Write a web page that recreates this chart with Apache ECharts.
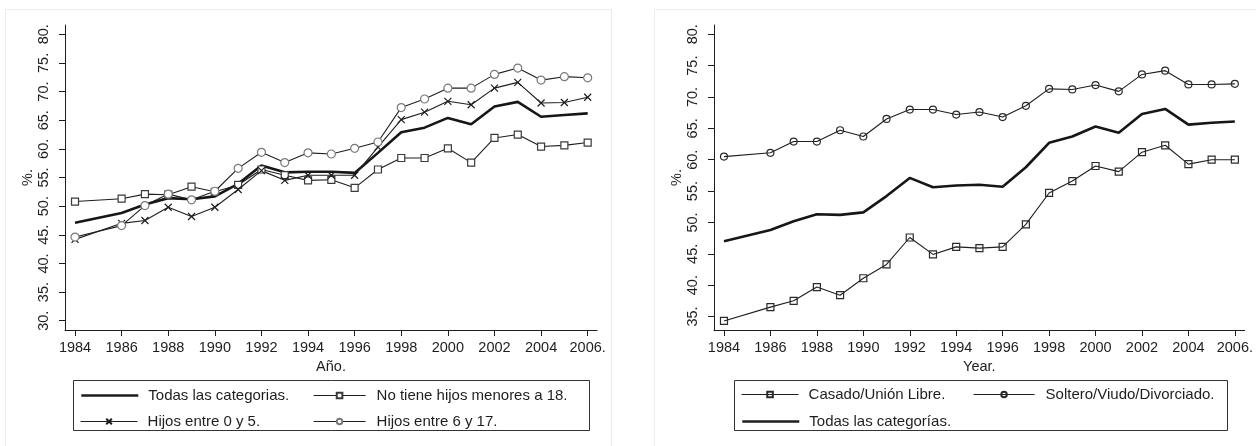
<!DOCTYPE html>
<html>
<head>
<meta charset="utf-8">
<script src="https://cdn.jsdelivr.net/npm/echarts@6/dist/echarts.min.js"></script>
<style>
  html, body { margin: 0; padding: 0; background: #fff; }
  #chart { width: 1256px; height: 446px; }
</style>
</head>
<body>
<div id="chart"></div>
<script>
// años de la encuesta (no hay dato para 1985)
const years = [1984, 1986, 1987, 1988, 1989, 1990, 1991, 1992, 1993, 1994, 1995,
               1996, 1997, 1998, 1999, 2000, 2001, 2002, 2003, 2004, 2005, 2006];

// panel izquierdo: por hijos
const todasHijos = [47.1, 48.8, 50.3, 51.4, 51.2, 51.7, 53.9, 57.1, 55.9, 56.0, 56.0,
                    55.8, 59.3, 62.9, 63.7, 65.4, 64.3, 67.4, 68.2, 65.6, 65.9, 66.2];
const noHijos = [50.8, 51.3, 52.1, 52.0, 53.4, 52.5, 53.7, 56.4, 55.4, 54.5, 54.6,
                 53.2, 56.4, 58.4, 58.4, 60.1, 57.6, 61.9, 62.5, 60.4, 60.6, 61.1];
const hijos0a5 = [44.2, 47.0, 47.5, 49.8, 48.2, 49.8, 52.9, 56.2, 54.5, 55.4, 55.4,
                  55.4, 60.3, 65.1, 66.4, 68.3, 67.7, 70.6, 71.6, 68.0, 68.1, 69.0];
const hijos6a17 = [44.6, 46.6, 50.1, 52.1, 51.1, 52.6, 56.6, 59.4, 57.6, 59.3, 59.1,
                   60.1, 61.2, 67.2, 68.7, 70.6, 70.6, 73.0, 74.1, 72.0, 72.6, 72.4];

// panel derecho: por estado civil
const casado = [34.3, 36.5, 37.5, 39.7, 38.4, 41.1, 43.3, 47.6, 44.9, 46.1, 45.9,
                46.1, 49.7, 54.7, 56.6, 59.0, 58.1, 61.2, 62.3, 59.3, 60.0, 60.0];
const soltero = [60.5, 61.1, 62.9, 62.9, 64.7, 63.7, 66.5, 68.0, 68.0, 67.2, 67.6,
                 66.8, 68.6, 71.3, 71.2, 71.9, 70.9, 73.6, 74.2, 72.0, 72.0, 72.1];
const todasCivil = [47.0, 48.8, 50.2, 51.3, 51.2, 51.6, 54.2, 57.1, 55.6, 55.9, 56.0,
                    55.7, 58.8, 62.7, 63.7, 65.3, 64.3, 67.3, 68.1, 65.6, 65.9, 66.1];

// marcas de los ejes
const xTicks = [1984, 1986, 1988, 1990, 1992, 1994, 1996, 1998, 2000, 2002, 2004, 2006];
const xTickLabels = ['1984', '1986', '1988', '1990', '1992', '1994', '1996', '1998',
                     '2000', '2002', '2004', '2006.'];
const yTicksLeft = [30, 35, 40, 45, 50, 55, 60, 65, 70, 75, 80];
const yTicksRight = [35, 40, 45, 50, 55, 60, 65, 70, 75, 80];

const FONT = 'Liberation Sans, Arial, sans-serif';
const INK = '#1e1e1e';
const THIN_W = 1.1;
const THICK_W = 2.6;

const pairs = (vals) => years.map((y, i) => [y, vals[i]]);
const xLabel = (v) => xTickLabels[xTicks.indexOf(Math.round(v))] || '';

function xAxisFor(gridIndex, name, min, max) {
  return {
    type: 'value', gridIndex, min, max, name,
    nameLocation: 'middle', nameGap: 22,
    nameTextStyle: { fontFamily: FONT, fontSize: 14.5, color: INK },
    splitLine: { show: false },
    axisLine: { lineStyle: { color: INK, width: 1 } },
    axisTick: { length: 6, customValues: xTicks, lineStyle: { color: INK } },
    axisLabel: {
      customValues: xTicks, margin: 10, formatter: xLabel,
      fontFamily: FONT, fontSize: 14.5, color: INK
    }
  };
}

function yAxisFor(gridIndex, ticks, min, max, gap) {
  return {
    type: 'value', gridIndex, min, max, name: '%.',
    nameLocation: 'middle', nameGap: gap, nameRotate: 90,
    nameTextStyle: { fontFamily: FONT, fontSize: 14.5, color: INK },
    splitLine: { show: false },
    axisLine: { show: true, lineStyle: { color: INK, width: 1 } },
    axisTick: { show: true, length: 6, customValues: ticks, lineStyle: { color: INK } },
    axisLabel: {
      customValues: ticks, rotate: 90, margin: 14,
      formatter: (v) => v + '.',
      fontFamily: FONT, fontSize: 14.5, color: INK
    }
  };
}

// una leyenda por entrada para poder fijar las columnas como en el original
function legendItem(name, left, centerY, width, pad, lineW) {
  return {
    data: [name], left, top: centerY - 3.5, padding: 0,
    itemWidth: width, itemHeight: 7, selectedMode: false,
    lineStyle: { color: INK, width: lineW },
    textStyle: { fontFamily: FONT, fontSize: 15, color: INK, padding: [0, 0, 0, pad] }
  };
}

const thin = { color: INK, width: THIN_W };
const thick = { color: '#161616', width: THICK_W };
const crossPath = 'path://M0,0L10,10M10,0L0,10';
// sin marcador: el símbolo de la leyenda queda invisible
const noMark = { color: 'transparent', borderWidth: 0 };

const chart = echarts.init(document.getElementById('chart'));

const option = {
  animation: false,
  backgroundColor: '#fff',
  graphic: [
    // marcos de los paneles
    { type: 'rect', silent: true, shape: { x: 5.5, y: 9.5, width: 606, height: 460 },
      style: { fill: 'none', stroke: '#ececec', lineWidth: 1 } },
    { type: 'rect', silent: true, shape: { x: 654.5, y: 9.5, width: 620, height: 460 },
      style: { fill: 'none', stroke: '#ececec', lineWidth: 1 } },
    // cajas de las leyendas
    { type: 'rect', silent: true, shape: { x: 73.5, y: 380.5, width: 516, height: 50 },
      style: { fill: 'none', stroke: '#333', lineWidth: 1 } },
    { type: 'rect', silent: true, shape: { x: 734.5, y: 380.5, width: 493, height: 50 },
      style: { fill: 'none', stroke: '#333', lineWidth: 1 } }
  ],
  grid: [
    { left: 65, top: 25, right: 1256 - 597, bottom: 116 },
    { left: 714, top: 25, right: 9, bottom: 116 }
  ],
  xAxis: [
    xAxisFor(0, 'Año.', 1983.57, 2006.4),
    xAxisFor(1, 'Year.', 1983.57, 2006.42)
  ],
  yAxis: [
    yAxisFor(0, yTicksLeft, 28.38, 81.62, 30),
    yAxisFor(1, yTicksRight, 32.85, 81.48, 28)
  ],
  legend: [
    legendItem('Todas las categorias.', 80, 391.5, 57, 5, THICK_W),
    legendItem('No tiene hijos menores a 18.', 313, 391.5, 52, 6, THIN_W),
    legendItem('Hijos entre 0 y 5.', 80, 417.5, 57, 5, THIN_W),
    legendItem('Hijos entre 6 y 17.', 313, 417.5, 52, 6, THIN_W),
    legendItem('Casado/Unión Libre.', 741, 390.5, 57, 5, THIN_W),
    legendItem('Soltero/Viudo/Divorciado.', 973, 390.5, 61, 6, THIN_W),
    legendItem('Todas las categorías.', 741, 417.5, 57, 5, THICK_W)
  ],
  series: [
    {
      name: 'Todas las categorias.', type: 'line', xAxisIndex: 0, yAxisIndex: 0,
      data: pairs(todasHijos), symbol: 'none', lineStyle: thick,
      itemStyle: noMark, z: 3
    },
    {
      name: 'No tiene hijos menores a 18.', type: 'line', xAxisIndex: 0, yAxisIndex: 0,
      data: pairs(noHijos), symbol: 'rect', symbolSize: 7, showAllSymbol: true,
      lineStyle: thin,
      itemStyle: { color: '#fff', borderColor: '#3a3a3a', borderWidth: 1.2 }
    },
    {
      name: 'Hijos entre 0 y 5.', type: 'line', xAxisIndex: 0, yAxisIndex: 0,
      data: pairs(hijos0a5), symbol: crossPath, symbolSize: 7, showAllSymbol: true,
      lineStyle: thin,
      itemStyle: { color: 'transparent', borderColor: INK, borderWidth: 1.2 }
    },
    {
      name: 'Hijos entre 6 y 17.', type: 'line', xAxisIndex: 0, yAxisIndex: 0,
      data: pairs(hijos6a17), symbol: 'circle', symbolSize: 8, showAllSymbol: true,
      lineStyle: thin,
      itemStyle: { color: '#fff', borderColor: '#7a7a7a', borderWidth: 1.2 }
    },
    {
      name: 'Casado/Unión Libre.', type: 'line', xAxisIndex: 1, yAxisIndex: 1,
      data: pairs(casado), symbol: 'rect', symbolSize: 7, showAllSymbol: true,
      lineStyle: thin,
      itemStyle: { color: 'transparent', borderColor: '#2a2a2a', borderWidth: 1.2 }
    },
    {
      name: 'Soltero/Viudo/Divorciado.', type: 'line', xAxisIndex: 1, yAxisIndex: 1,
      data: pairs(soltero), symbol: 'circle', symbolSize: 7, showAllSymbol: true,
      lineStyle: thin,
      itemStyle: { color: 'transparent', borderColor: '#2a2a2a', borderWidth: 1.2 }
    },
    {
      name: 'Todas las categorías.', type: 'line', xAxisIndex: 1, yAxisIndex: 1,
      data: pairs(todasCivil), symbol: 'none', lineStyle: thick,
      itemStyle: noMark, z: 3
    }
  ]
};

chart.setOption(option);
</script>
</body>
</html>
